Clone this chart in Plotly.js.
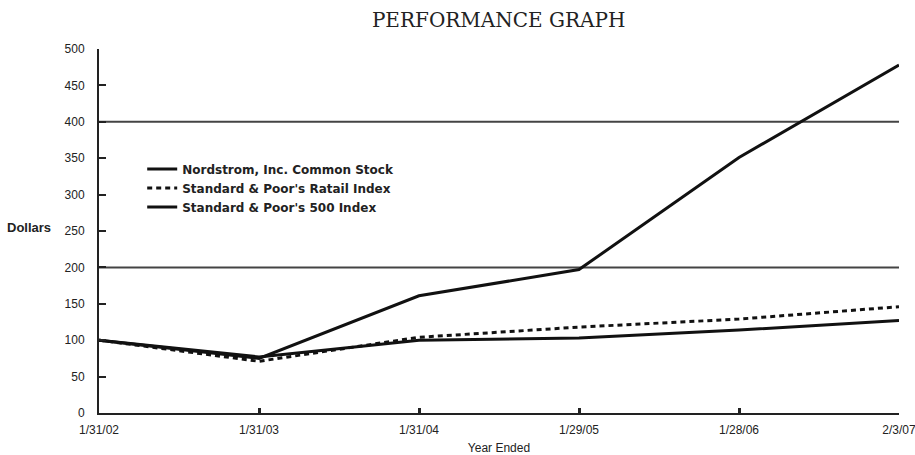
<!DOCTYPE html>
<html>
<head>
<meta charset="utf-8">
<script src="https://cdn.plot.ly/plotly-3.0.1.min.js"></script>
<style>html,body{margin:0;padding:0;background:#fff;}#chart{width:915px;height:455px;}</style>
</head>
<body>
<div id="chart"></div>
<script>
const categories = ["1/31/02", "1/31/03", "1/31/04", "1/29/05", "1/28/06", "2/3/07"];
const nordstrom = [100, 75, 161, 197, 351, 478];
const spRetail = [100, 71, 104, 118, 129, 146];
const sp500 = [100, 77, 100, 103, 114, 127];
const yTicks = [0, 50, 100, 150, 200, 250, 300, 350, 400, 450, 500];
const gridValues = [200, 400];

const tickFont = {family: "Liberation Sans Narrow, Arial Narrow, Liberation Sans, sans-serif", size: 12, color: "#222"};

const traces = [
  {x: categories, y: nordstrom, name: "Nordstrom, Inc. Common Stock", mode: "lines",
   line: {color: "#111", width: 3}},
  {x: categories, y: spRetail, name: "Standard &amp; Poor's Ratail Index", mode: "lines",
   line: {color: "#111", width: 3, dash: "5px,4px"}},
  {x: categories, y: sp500, name: "Standard &amp; Poor's 500 Index", mode: "lines",
   line: {color: "#111", width: 3}}
];

const layout = {
  width: 915, height: 455,
  margin: {l: 99, r: 16, t: 49, b: 42},
  paper_bgcolor: "#fff", plot_bgcolor: "#fff",
  title: {text: "PERFORMANCE GRAPH", x: 0.545, xanchor: "center", y: 0.956, yanchor: "middle",
          font: {family: "DejaVu Serif, Liberation Serif, serif", size: 20, color: "#222"}},
  xaxis: {
    type: "category", range: [0, 5], showgrid: false, zeroline: false,
    showline: true, linecolor: "#222", linewidth: 2,
    ticks: "inside", ticklen: 5, tickwidth: 3, tickcolor: "#222",
    tickfont: tickFont, ticklabelstandoff: 5,
    title: {text: "Year Ended", font: tickFont, standoff: 9}
  },
  yaxis: {
    range: [0, 500], tickvals: yTicks, showgrid: false, zeroline: false,
    showline: true, linecolor: "#222", linewidth: 2,
    ticks: "inside", ticklen: 7, tickwidth: 2, tickcolor: "#222",
    tickfont: tickFont, ticklabelstandoff: 10
  },
  shapes: gridValues.map(v => ({type: "line", xref: "paper", x0: 0, x1: 1, yref: "y", y0: v, y1: v,
    line: {color: "#444", width: 2}, layer: "below"})),
  annotations: [
    {text: "Dollars", xref: "paper", yref: "paper", x: -0.117, y: 0.51, xanchor: "left", yanchor: "middle",
     showarrow: false, font: {family: "Liberation Sans Narrow, Arial Narrow, sans-serif", size: 13, color: "#222", weight: "bold"}}
  ],
  showlegend: true,
  legend: {x: 0.054, y: 0.71, xanchor: "left", yanchor: "top", bgcolor: "rgba(0,0,0,0)",
           font: {family: "DejaVu Sans, sans-serif", size: 12, color: "#222", weight: "bold"},
           tracegroupgap: 0, itemwidth: 30},
  font: {color: "#222"}
};

Plotly.newPlot("chart", traces, layout, {staticPlot: true, displayModeBar: false});
</script>
</body>
</html>
